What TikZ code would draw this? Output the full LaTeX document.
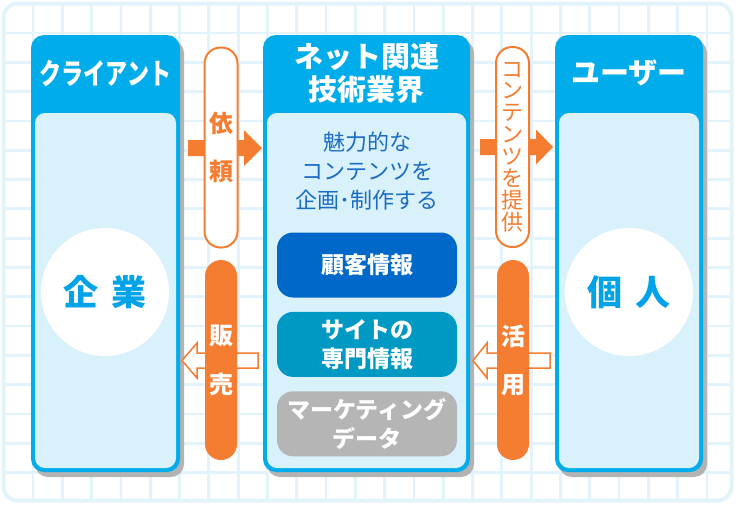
\documentclass[tikz,border=0pt]{standalone}
\usepackage{fontspec}
\setmainfont{Noto Sans CJK JP}
\usetikzlibrary{positioning}
\definecolor{gridblue}{HTML}{E2F3FB}
\definecolor{colblue}{HTML}{00ACEA}
\definecolor{panelblue}{HTML}{D9F1FB}
\definecolor{shadowgray}{HTML}{B3B3B3}
\definecolor{accorange}{HTML}{F47D31}
\definecolor{deepblue}{HTML}{0068C8}
\definecolor{tealblue}{HTML}{0099C4}
\definecolor{softgray}{HTML}{B5B5B5}
\definecolor{textblue}{HTML}{1B6CC2}
\definecolor{circblue}{HTML}{00A2E8}

\begin{document}
\begin{tikzpicture}[x=1pt,y=-1pt,
	head/.style={text=white,align=center,font=\fontsize{29}{33}\selectfont\bfseries},
	ring/.style={circle,fill=white,minimum size=128pt,text=circblue,font=\fontsize{35}{35}\selectfont\bfseries},
	infobox/.style={rounded corners=16pt,minimum width=180pt,minimum height=65pt,inner sep=0pt,text=white,align=center,font=\fontsize{23}{29}\selectfont\bfseries},
	pillout/.style={draw=accorange,line width=2pt,fill=white,rounded corners=16pt,minimum width=33pt,minimum height=200pt,inner sep=0pt,text=accorange,align=center},
	pillfill/.style={fill=accorange,rounded corners=16pt,minimum width=32pt,minimum height=200pt,inner sep=0pt,text=white,align=center}]
	\useasboundingbox (0,0) rectangle (735,504);
	
	\begin{scope}
		\clip[rounded corners=14pt] (3.5,3.5) rectangle (731.5,500.5);
		\fill[white] (0,0) rectangle (735,504);
		\foreach \i in {0,...,24}
			\draw[gridblue,line width=2.8pt] (3.7+29.3*\i,0) -- ++(0,504);
		\foreach \j in {0,...,17}
			\draw[gridblue,line width=2.8pt] (0,3.7+29.3*\j) -- ++(735,0);
	\end{scope}
	\draw[gridblue,line width=4pt,rounded corners=14pt] (3.5,3.5) rectangle (731.5,500.5);
	
	\foreach \xa/\xb in {31/180,263/470,555/703}{
		\fill[shadowgray,rounded corners=13pt] (\xa+4,40) rectangle (\xb+4,477);
		\fill[colblue,rounded corners=13pt] (\xa,35) rectangle (\xb,472);
		\fill[panelblue,rounded corners=10pt] (\xa+4,113) rectangle (\xb-4,468);
	}
	
	\node[head] (clientHead) at (105.5,73) {\scalebox{0.76}[1]{クライアント}};
	\node[head] (indHead) at (366.5,73) {ネット関連\\技術業界};
	\node[head] (userHead) at (629,73) {ユーザー};
	
	\node[ring] (firm) at (105,292) {企\hspace{0.4em}業};
	\node[ring] (person) at (629,292) {個\hspace{0.4em}人};
	
	\node[text=textblue,align=center,font=\fontsize{22}{29}\selectfont] (plan) at (367,171) {魅力的な\\コンテンツを\\企画･制作する};
	\node[infobox,fill=deepblue] (cust) at (367,265) {顧客情報};
	\node[infobox,fill=tealblue,below=14pt of cust] (site) {サイトの\\専門情報};
	\node[infobox,fill=softgray,below=14pt of site] (mkt) {マーケティング\\データ};
	
	\fill[accorange] (188,140) -- (244,140) -- (244,130) -- (262,148) -- (244,166) -- (244,156) -- (188,156) -- cycle;
	\fill[accorange] (480,139) -- (536,139) -- (536,129.5) -- (553,147) -- (536,164.5) -- (536,155) -- (480,155) -- cycle;
	\draw[accorange,line width=1.5pt,fill=white] (258,353) -- (197,353) -- (197,343) -- (182,360.5) -- (197,378) -- (197,368) -- (258,368) -- cycle;
	\draw[accorange,line width=1.5pt,fill=white] (550,353) -- (487,353) -- (487,343) -- (473,360.5) -- (487,378) -- (487,368) -- (550,368) -- cycle;
	
	\node[pillout,font=\fontsize{24}{48}\selectfont\bfseries] (request) at (221,147.5) {依\\頼};
	\node[pillfill,font=\fontsize{24}{49}\selectfont\bfseries] (sales) at (221,360) {販\\売};
	\node[pillout,font=\fontsize{22}{21.9}\selectfont] (provide) at (512.5,147) {コ\\ン\\テ\\ン\\ツ\\を\\提\\供};
	\node[pillfill,font=\fontsize{24}{48}\selectfont\bfseries] (usage) at (513,360) {活\\用};
\end{tikzpicture}
\end{document}
